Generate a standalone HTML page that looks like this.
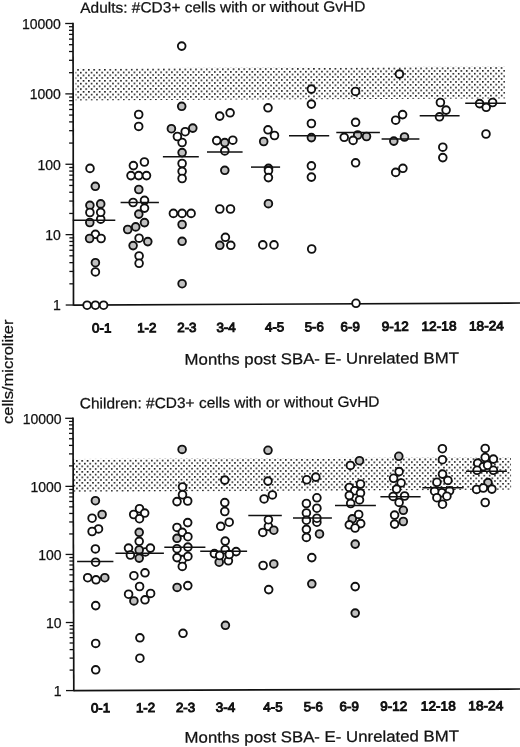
<!DOCTYPE html><html><head><meta charset="utf-8"><style>
html,body{margin:0;padding:0;background:#fff;}
body{width:520px;height:747px;overflow:hidden;}
svg{display:block;filter:grayscale(1);}
text{font-family:"Liberation Sans",sans-serif;fill:#111;stroke:#111;stroke-width:0.25px;}
.ax{stroke:#111;stroke-width:1.7;}
.tk{stroke:#111;stroke-width:1.3;}
.md{stroke:#111;stroke-width:1.5;}
.w{fill:#fff;stroke:#111;stroke-width:1.85;}
.g{fill:#c0c0c0;stroke:#111;stroke-width:1.85;}
.yl{font-size:14px;text-anchor:end;}
.xl{font-weight:normal;stroke-width:0.95px;}
.tt{font-size:14.8px;}
.xt{font-size:16px;}
</style></head><body>
<svg width="520" height="747" viewBox="0 0 520 747">
<defs>
<pattern id="p1" patternUnits="userSpaceOnUse" x="78.3" y="69.1" width="5.36" height="5.5">
<rect x="0" y="0" width="1.6" height="1.6" fill="#181818"/>
<rect x="2.68" y="2.75" width="1.6" height="1.6" fill="#181818"/>
</pattern>
<pattern id="p2" patternUnits="userSpaceOnUse" x="79.7" y="457.35" width="5.36" height="5.5">
<rect x="0" y="0" width="1.6" height="1.6" fill="#181818"/>
<rect x="2.68" y="2.75" width="1.6" height="1.6" fill="#181818"/>
</pattern>
</defs>
<text transform="translate(80.20 12.90) rotate(-0.282) scale(1.0326 1)" class="tt" style="font-size:15px">Adults: #CD3+ cells with or without GvHD</text>
<g transform="rotate(-0.25 73 305)">
<rect x="76.5" y="68.4" width="429.5" height="32" fill="url(#p1)"/>
</g>
<line x1="73" y1="22.8" x2="73.5" y2="305.72" class="ax"/>
<line x1="73.5" y1="305.1" x2="520" y2="303" class="ax"/>
<line x1="65.2" y1="23.5" x2="73" y2="23.5" class="tk"/>
<line x1="69" y1="72.69" x2="73" y2="72.69" class="tk"/>
<line x1="69" y1="60.3" x2="73" y2="60.3" class="tk"/>
<line x1="69" y1="51.51" x2="73" y2="51.51" class="tk"/>
<line x1="69" y1="44.69" x2="73" y2="44.69" class="tk"/>
<line x1="69" y1="39.11" x2="73" y2="39.11" class="tk"/>
<line x1="69" y1="34.4" x2="73" y2="34.4" class="tk"/>
<line x1="69" y1="30.32" x2="73" y2="30.32" class="tk"/>
<line x1="69" y1="26.72" x2="73" y2="26.72" class="tk"/>
<text x="60.9" y="28.75" class="yl">10000</text>
<line x1="65.33" y1="93.88" x2="73.12" y2="93.88" class="tk"/>
<line x1="69.12" y1="143.07" x2="73.12" y2="143.07" class="tk"/>
<line x1="69.12" y1="130.68" x2="73.12" y2="130.68" class="tk"/>
<line x1="69.12" y1="121.89" x2="73.12" y2="121.89" class="tk"/>
<line x1="69.12" y1="115.07" x2="73.12" y2="115.07" class="tk"/>
<line x1="69.12" y1="109.49" x2="73.12" y2="109.49" class="tk"/>
<line x1="69.12" y1="104.78" x2="73.12" y2="104.78" class="tk"/>
<line x1="69.12" y1="100.7" x2="73.12" y2="100.7" class="tk"/>
<line x1="69.12" y1="97.1" x2="73.12" y2="97.1" class="tk"/>
<text x="60.9" y="99.13" class="yl">1000</text>
<line x1="65.45" y1="164.26" x2="73.25" y2="164.26" class="tk"/>
<line x1="69.25" y1="213.45" x2="73.25" y2="213.45" class="tk"/>
<line x1="69.25" y1="201.06" x2="73.25" y2="201.06" class="tk"/>
<line x1="69.25" y1="192.27" x2="73.25" y2="192.27" class="tk"/>
<line x1="69.25" y1="185.45" x2="73.25" y2="185.45" class="tk"/>
<line x1="69.25" y1="179.87" x2="73.25" y2="179.87" class="tk"/>
<line x1="69.25" y1="175.16" x2="73.25" y2="175.16" class="tk"/>
<line x1="69.25" y1="171.08" x2="73.25" y2="171.08" class="tk"/>
<line x1="69.25" y1="167.48" x2="73.25" y2="167.48" class="tk"/>
<text x="60.9" y="169.51" class="yl">100</text>
<line x1="65.58" y1="234.64" x2="73.38" y2="234.64" class="tk"/>
<line x1="69.38" y1="283.83" x2="73.38" y2="283.83" class="tk"/>
<line x1="69.38" y1="271.44" x2="73.38" y2="271.44" class="tk"/>
<line x1="69.38" y1="262.65" x2="73.38" y2="262.65" class="tk"/>
<line x1="69.38" y1="255.83" x2="73.38" y2="255.83" class="tk"/>
<line x1="69.38" y1="250.25" x2="73.38" y2="250.25" class="tk"/>
<line x1="69.38" y1="245.54" x2="73.38" y2="245.54" class="tk"/>
<line x1="69.38" y1="241.46" x2="73.38" y2="241.46" class="tk"/>
<line x1="69.38" y1="237.86" x2="73.38" y2="237.86" class="tk"/>
<text x="60.9" y="239.89" class="yl">10</text>
<line x1="65.7" y1="305.02" x2="73.5" y2="305.02" class="tk"/>
<text x="60.9" y="310.27" class="yl">1</text>
<circle cx="90" cy="168.4" r="3.85" class="w"/>
<circle cx="95.3" cy="186.3" r="3.85" class="g"/>
<circle cx="89.9" cy="205.3" r="3.85" class="g"/>
<circle cx="100.7" cy="203.9" r="3.85" class="g"/>
<circle cx="100.7" cy="219.2" r="3.85" class="w"/>
<circle cx="89.9" cy="212.5" r="3.85" class="w"/>
<circle cx="100.7" cy="212.3" r="3.85" class="w"/>
<circle cx="89.8" cy="222.5" r="3.85" class="g"/>
<circle cx="95.4" cy="234.3" r="3.85" class="w"/>
<circle cx="89.6" cy="238.5" r="3.85" class="g"/>
<circle cx="101.1" cy="238.5" r="3.85" class="w"/>
<circle cx="95.4" cy="262.7" r="3.85" class="g"/>
<circle cx="95.4" cy="271.9" r="3.85" class="w"/>
<circle cx="87.1" cy="305.2" r="3.85" class="w"/>
<circle cx="95.4" cy="305.2" r="3.85" class="w"/>
<circle cx="103.6" cy="305.2" r="3.85" class="w"/>
<circle cx="138.7" cy="114.5" r="3.85" class="w"/>
<circle cx="138.7" cy="126.4" r="3.85" class="w"/>
<circle cx="144.4" cy="162" r="3.85" class="w"/>
<circle cx="133.4" cy="165.6" r="3.85" class="w"/>
<circle cx="131" cy="175.6" r="3.85" class="w"/>
<circle cx="138.7" cy="175.6" r="3.85" class="w"/>
<circle cx="146.5" cy="175.6" r="3.85" class="w"/>
<circle cx="138.8" cy="189.5" r="3.85" class="g"/>
<circle cx="144.5" cy="200.3" r="3.85" class="w"/>
<circle cx="133.1" cy="202.5" r="3.85" class="w"/>
<circle cx="144.5" cy="208.1" r="3.85" class="w"/>
<circle cx="138.8" cy="214.1" r="3.85" class="g"/>
<circle cx="144.5" cy="222.6" r="3.85" class="g"/>
<circle cx="135.7" cy="226.9" r="3.85" class="g"/>
<circle cx="127.7" cy="229.5" r="3.85" class="g"/>
<circle cx="139.1" cy="238.2" r="3.85" class="w"/>
<circle cx="147.8" cy="241.6" r="3.85" class="g"/>
<circle cx="133.1" cy="245.6" r="3.85" class="g"/>
<circle cx="139.1" cy="256" r="3.85" class="w"/>
<circle cx="139.1" cy="263.3" r="3.85" class="w"/>
<circle cx="181.7" cy="46.1" r="3.85" class="w"/>
<circle cx="181.7" cy="106.3" r="3.85" class="g"/>
<circle cx="171.4" cy="128.7" r="3.85" class="g"/>
<circle cx="192.8" cy="128.1" r="3.85" class="g"/>
<circle cx="182.1" cy="142.5" r="3.85" class="w"/>
<circle cx="177.4" cy="136.5" r="3.85" class="w"/>
<circle cx="185.2" cy="131.7" r="3.85" class="w"/>
<circle cx="182.1" cy="152.6" r="3.85" class="g"/>
<circle cx="182.1" cy="163.5" r="3.85" class="w"/>
<circle cx="182.1" cy="171.3" r="3.85" class="w"/>
<circle cx="182.1" cy="178.5" r="3.85" class="w"/>
<circle cx="173.4" cy="213.4" r="3.85" class="w"/>
<circle cx="182.1" cy="213.4" r="3.85" class="w"/>
<circle cx="191.1" cy="213.4" r="3.85" class="w"/>
<circle cx="182.1" cy="224.5" r="3.85" class="g"/>
<circle cx="182.1" cy="241.3" r="3.85" class="g"/>
<circle cx="182.1" cy="283.7" r="3.85" class="g"/>
<circle cx="230.1" cy="112.8" r="3.85" class="w"/>
<circle cx="219.7" cy="116.1" r="3.85" class="w"/>
<circle cx="216.7" cy="140.6" r="3.85" class="w"/>
<circle cx="232.8" cy="140.2" r="3.85" class="w"/>
<circle cx="224.8" cy="142.6" r="3.85" class="g"/>
<circle cx="224.8" cy="150.9" r="3.85" class="w"/>
<circle cx="224.8" cy="170.3" r="3.85" class="g"/>
<circle cx="219.8" cy="209" r="3.85" class="w"/>
<circle cx="230.5" cy="209" r="3.85" class="w"/>
<circle cx="225.4" cy="237.3" r="3.85" class="w"/>
<circle cx="219.8" cy="245.3" r="3.85" class="g"/>
<circle cx="230.8" cy="245.3" r="3.85" class="w"/>
<circle cx="268" cy="107.8" r="3.85" class="w"/>
<circle cx="268" cy="129.8" r="3.85" class="w"/>
<circle cx="274.5" cy="135.5" r="3.85" class="w"/>
<circle cx="263.7" cy="141.5" r="3.85" class="g"/>
<circle cx="268.5" cy="168.4" r="3.85" class="g"/>
<circle cx="268.5" cy="170.6" r="3.85" class="w"/>
<circle cx="268.4" cy="177.6" r="3.85" class="w"/>
<circle cx="268.4" cy="203.7" r="3.85" class="g"/>
<circle cx="262.8" cy="244.9" r="3.85" class="w"/>
<circle cx="274" cy="244.9" r="3.85" class="w"/>
<circle cx="311.4" cy="89.1" r="3.85" class="w"/>
<circle cx="311.4" cy="104.1" r="3.85" class="w"/>
<circle cx="311.4" cy="123.5" r="3.85" class="w"/>
<circle cx="311.4" cy="137.6" r="3.85" class="g"/>
<circle cx="311.4" cy="165.8" r="3.85" class="w"/>
<circle cx="311.4" cy="177.1" r="3.85" class="w"/>
<circle cx="311.7" cy="249" r="3.85" class="w"/>
<circle cx="355.5" cy="91.4" r="3.85" class="w"/>
<circle cx="355.6" cy="122.3" r="3.85" class="w"/>
<circle cx="357.7" cy="135" r="3.85" class="g"/>
<circle cx="366.5" cy="136.5" r="3.85" class="g"/>
<circle cx="344.2" cy="137.3" r="3.85" class="w"/>
<circle cx="353.1" cy="140.4" r="3.85" class="w"/>
<circle cx="355.6" cy="162.8" r="3.85" class="w"/>
<circle cx="356" cy="303.3" r="3.85" class="w"/>
<circle cx="399.4" cy="74.1" r="3.85" class="w"/>
<circle cx="402.6" cy="114.6" r="3.85" class="w"/>
<circle cx="395.7" cy="120.2" r="3.85" class="w"/>
<circle cx="404.5" cy="137" r="3.85" class="g"/>
<circle cx="393.8" cy="141.1" r="3.85" class="g"/>
<circle cx="402.9" cy="168.3" r="3.85" class="w"/>
<circle cx="395.7" cy="172.4" r="3.85" class="w"/>
<circle cx="440.4" cy="102.5" r="3.85" class="w"/>
<circle cx="446.1" cy="110.1" r="3.85" class="w"/>
<circle cx="439.5" cy="116.8" r="3.85" class="w"/>
<circle cx="442.8" cy="147.2" r="3.85" class="w"/>
<circle cx="442.8" cy="157.6" r="3.85" class="w"/>
<circle cx="479.6" cy="103.6" r="3.85" class="w"/>
<circle cx="486.2" cy="107.3" r="3.85" class="w"/>
<circle cx="492.6" cy="102.5" r="3.85" class="w"/>
<circle cx="486" cy="134" r="3.85" class="w"/>
<line x1="72.8" y1="220.3" x2="115.3" y2="220.3" class="md"/>
<line x1="120.6" y1="202.4" x2="158.9" y2="202.4" class="md"/>
<line x1="162.9" y1="156.7" x2="198.8" y2="156.7" class="md"/>
<line x1="207" y1="151.9" x2="242.6" y2="151.9" class="md"/>
<line x1="251" y1="167.1" x2="280.1" y2="167.1" class="md"/>
<line x1="289" y1="135.7" x2="329.2" y2="135.7" class="md"/>
<line x1="336.3" y1="132.4" x2="379.9" y2="132.4" class="md"/>
<line x1="381.6" y1="139" x2="419.4" y2="139" class="md"/>
<line x1="419.7" y1="115.8" x2="459.6" y2="115.8" class="md"/>
<line x1="465.2" y1="103.3" x2="505.9" y2="103.3" class="md"/>
<text transform="translate(92.08 332.57) rotate(-0.315) scale(1.0130 1)" class="xl" style="font-size:13.2px">0-1</text>
<text transform="translate(137.13 332.32) rotate(-0.315) scale(1.0125 1)" class="xl" style="font-size:13.2px">1-2</text>
<text transform="translate(177.21 332.10) rotate(-0.315) scale(1.0129 1)" class="xl" style="font-size:13.2px">2-3</text>
<text transform="translate(216.38 331.88) rotate(-0.315) scale(1.0203 1)" class="xl" style="font-size:13.2px">3-4</text>
<text transform="translate(265.00 331.62) rotate(-0.315) scale(1.0132 1)" class="xl" style="font-size:13.2px">4-5</text>
<text transform="translate(304.74 331.40) rotate(-0.315) scale(1.0058 1)" class="xl" style="font-size:13.2px">5-6</text>
<text transform="translate(340.61 331.20) rotate(-0.315) scale(1.0129 1)" class="xl" style="font-size:13.2px">6-9</text>
<text transform="translate(381.65 330.95) rotate(-0.315) scale(1.0230 1)" class="xl" style="font-size:13.2px">9-12</text>
<text transform="translate(421.51 330.71) rotate(-0.315) scale(1.0365 1)" class="xl" style="font-size:13.2px">12-18</text>
<text transform="translate(468.99 330.45) rotate(-0.315) scale(1.0364 1)" class="xl" style="font-size:13.2px">18-24</text>
<text transform="translate(184.55 364.80) rotate(-0.336) scale(1.0780 1)" class="xt" style="font-size:15.6px">Months post SBA- E- Unrelated BMT</text>
<text transform="translate(12.6 423.99) rotate(-90) scale(1.0996 1)" class="xt" style="font-size:15px">cells/microliter</text>
<text transform="translate(79.83 408.60) rotate(-0.346) scale(1.0322 1)" class="tt" style="font-size:15px">Children: #CD3+ cells with or without GvHD</text>
<g transform="rotate(-0.25 73 690)">
<rect x="74.4" y="459.1" width="437.6" height="32.6" fill="url(#p2)"/>
</g>
<line x1="73" y1="417.6" x2="73.8" y2="691.28" class="ax"/>
<line x1="73.8" y1="690.6" x2="520" y2="689" class="ax"/>
<line x1="65.2" y1="418.3" x2="73" y2="418.3" class="tk"/>
<line x1="69" y1="465.88" x2="73" y2="465.88" class="tk"/>
<line x1="69" y1="453.89" x2="73" y2="453.89" class="tk"/>
<line x1="69" y1="445.39" x2="73" y2="445.39" class="tk"/>
<line x1="69" y1="438.79" x2="73" y2="438.79" class="tk"/>
<line x1="69" y1="433.4" x2="73" y2="433.4" class="tk"/>
<line x1="69" y1="428.84" x2="73" y2="428.84" class="tk"/>
<line x1="69" y1="424.9" x2="73" y2="424.9" class="tk"/>
<line x1="69" y1="421.41" x2="73" y2="421.41" class="tk"/>
<text x="61.6" y="423.55" class="yl">10000</text>
<line x1="65.4" y1="486.37" x2="73.2" y2="486.37" class="tk"/>
<line x1="69.2" y1="533.95" x2="73.2" y2="533.95" class="tk"/>
<line x1="69.2" y1="521.96" x2="73.2" y2="521.96" class="tk"/>
<line x1="69.2" y1="513.46" x2="73.2" y2="513.46" class="tk"/>
<line x1="69.2" y1="506.86" x2="73.2" y2="506.86" class="tk"/>
<line x1="69.2" y1="501.47" x2="73.2" y2="501.47" class="tk"/>
<line x1="69.2" y1="496.91" x2="73.2" y2="496.91" class="tk"/>
<line x1="69.2" y1="492.97" x2="73.2" y2="492.97" class="tk"/>
<line x1="69.2" y1="489.48" x2="73.2" y2="489.48" class="tk"/>
<text x="61.6" y="491.62" class="yl">1000</text>
<line x1="65.6" y1="554.44" x2="73.4" y2="554.44" class="tk"/>
<line x1="69.4" y1="602.02" x2="73.4" y2="602.02" class="tk"/>
<line x1="69.4" y1="590.03" x2="73.4" y2="590.03" class="tk"/>
<line x1="69.4" y1="581.53" x2="73.4" y2="581.53" class="tk"/>
<line x1="69.4" y1="574.93" x2="73.4" y2="574.93" class="tk"/>
<line x1="69.4" y1="569.54" x2="73.4" y2="569.54" class="tk"/>
<line x1="69.4" y1="564.98" x2="73.4" y2="564.98" class="tk"/>
<line x1="69.4" y1="561.04" x2="73.4" y2="561.04" class="tk"/>
<line x1="69.4" y1="557.55" x2="73.4" y2="557.55" class="tk"/>
<text x="61.6" y="559.69" class="yl">100</text>
<line x1="65.8" y1="622.51" x2="73.6" y2="622.51" class="tk"/>
<line x1="69.6" y1="670.09" x2="73.6" y2="670.09" class="tk"/>
<line x1="69.6" y1="658.1" x2="73.6" y2="658.1" class="tk"/>
<line x1="69.6" y1="649.6" x2="73.6" y2="649.6" class="tk"/>
<line x1="69.6" y1="643" x2="73.6" y2="643" class="tk"/>
<line x1="69.6" y1="637.61" x2="73.6" y2="637.61" class="tk"/>
<line x1="69.6" y1="633.05" x2="73.6" y2="633.05" class="tk"/>
<line x1="69.6" y1="629.11" x2="73.6" y2="629.11" class="tk"/>
<line x1="69.6" y1="625.62" x2="73.6" y2="625.62" class="tk"/>
<text x="61.6" y="627.76" class="yl">10</text>
<line x1="66" y1="690.58" x2="73.8" y2="690.58" class="tk"/>
<text x="61.6" y="695.83" class="yl">1</text>
<circle cx="95.4" cy="500.7" r="3.85" class="g"/>
<circle cx="102.1" cy="514.5" r="3.85" class="g"/>
<circle cx="92.1" cy="518.2" r="3.85" class="w"/>
<circle cx="98.5" cy="528.9" r="3.85" class="w"/>
<circle cx="92.1" cy="531.5" r="3.85" class="w"/>
<circle cx="95.4" cy="548.9" r="3.85" class="w"/>
<circle cx="95.6" cy="562.2" r="3.85" class="w"/>
<circle cx="87.7" cy="577.7" r="3.85" class="w"/>
<circle cx="104.8" cy="577.7" r="3.85" class="g"/>
<circle cx="96" cy="579.8" r="3.85" class="w"/>
<circle cx="95.7" cy="605.6" r="3.85" class="w"/>
<circle cx="95.7" cy="643.4" r="3.85" class="w"/>
<circle cx="95.7" cy="669.8" r="3.85" class="w"/>
<circle cx="139.5" cy="508.7" r="3.85" class="w"/>
<circle cx="133.7" cy="514.5" r="3.85" class="w"/>
<circle cx="144.7" cy="513.1" r="3.85" class="w"/>
<circle cx="139.5" cy="518.7" r="3.85" class="w"/>
<circle cx="139.2" cy="532.3" r="3.85" class="g"/>
<circle cx="139.2" cy="541.3" r="3.85" class="w"/>
<circle cx="145.4" cy="551.9" r="3.85" class="w"/>
<circle cx="128.5" cy="548.1" r="3.85" class="w"/>
<circle cx="150.4" cy="548.1" r="3.85" class="w"/>
<circle cx="139.2" cy="550" r="3.85" class="g"/>
<circle cx="130.4" cy="555" r="3.85" class="w"/>
<circle cx="139.2" cy="558.1" r="3.85" class="g"/>
<circle cx="145" cy="572.8" r="3.85" class="w"/>
<circle cx="133.9" cy="575.7" r="3.85" class="w"/>
<circle cx="139.6" cy="586.5" r="3.85" class="w"/>
<circle cx="128.6" cy="594.2" r="3.85" class="w"/>
<circle cx="150.6" cy="593.4" r="3.85" class="w"/>
<circle cx="133.9" cy="600.9" r="3.85" class="g"/>
<circle cx="145" cy="599.8" r="3.85" class="w"/>
<circle cx="139.9" cy="637.8" r="3.85" class="w"/>
<circle cx="139.9" cy="658.2" r="3.85" class="w"/>
<circle cx="182.1" cy="449.4" r="3.85" class="g"/>
<circle cx="182.5" cy="486.9" r="3.85" class="w"/>
<circle cx="182.5" cy="494.7" r="3.85" class="w"/>
<circle cx="177" cy="501.6" r="3.85" class="w"/>
<circle cx="187.7" cy="501" r="3.85" class="w"/>
<circle cx="187.7" cy="522.6" r="3.85" class="w"/>
<circle cx="177" cy="527.4" r="3.85" class="w"/>
<circle cx="182.3" cy="532.3" r="3.85" class="w"/>
<circle cx="177" cy="538.3" r="3.85" class="g"/>
<circle cx="187.9" cy="536.7" r="3.85" class="w"/>
<circle cx="182.3" cy="559.6" r="3.85" class="w"/>
<circle cx="182.3" cy="566.4" r="3.85" class="w"/>
<circle cx="177" cy="548.7" r="3.85" class="w"/>
<circle cx="187.9" cy="547.1" r="3.85" class="w"/>
<circle cx="177" cy="557.6" r="3.85" class="w"/>
<circle cx="187.9" cy="556.4" r="3.85" class="w"/>
<circle cx="177.1" cy="587.4" r="3.85" class="g"/>
<circle cx="187.8" cy="585.6" r="3.85" class="w"/>
<circle cx="183" cy="633.3" r="3.85" class="w"/>
<circle cx="224.8" cy="480.1" r="3.85" class="w"/>
<circle cx="224.8" cy="502.6" r="3.85" class="w"/>
<circle cx="224.8" cy="511.5" r="3.85" class="w"/>
<circle cx="229.2" cy="522.2" r="3.85" class="w"/>
<circle cx="220.7" cy="526.3" r="3.85" class="w"/>
<circle cx="225.2" cy="541.1" r="3.85" class="w"/>
<circle cx="225.2" cy="549.7" r="3.85" class="w"/>
<circle cx="214.4" cy="553.6" r="3.85" class="w"/>
<circle cx="236.1" cy="551.6" r="3.85" class="w"/>
<circle cx="219.2" cy="562.2" r="3.85" class="g"/>
<circle cx="228.4" cy="560.8" r="3.85" class="w"/>
<circle cx="219.7" cy="555.5" r="3.85" class="w"/>
<circle cx="229.3" cy="554.5" r="3.85" class="w"/>
<circle cx="225.4" cy="625.3" r="3.85" class="g"/>
<circle cx="268" cy="450.3" r="3.85" class="g"/>
<circle cx="268" cy="481.1" r="3.85" class="w"/>
<circle cx="272.4" cy="494.9" r="3.85" class="w"/>
<circle cx="264.1" cy="498.9" r="3.85" class="w"/>
<circle cx="268.4" cy="526.4" r="3.85" class="w"/>
<circle cx="268.4" cy="519.7" r="3.85" class="w"/>
<circle cx="262.8" cy="532.4" r="3.85" class="w"/>
<circle cx="273.8" cy="530.2" r="3.85" class="g"/>
<circle cx="263.1" cy="565.5" r="3.85" class="w"/>
<circle cx="273.8" cy="563.9" r="3.85" class="g"/>
<circle cx="268.7" cy="589.6" r="3.85" class="w"/>
<circle cx="306.7" cy="479.8" r="3.85" class="w"/>
<circle cx="315.8" cy="477.1" r="3.85" class="w"/>
<circle cx="316.9" cy="497.8" r="3.85" class="w"/>
<circle cx="306.4" cy="503.5" r="3.85" class="w"/>
<circle cx="316.9" cy="508.2" r="3.85" class="w"/>
<circle cx="306.4" cy="512.9" r="3.85" class="w"/>
<circle cx="316.9" cy="522.2" r="3.85" class="w"/>
<circle cx="316.9" cy="518.2" r="3.85" class="w"/>
<circle cx="306.4" cy="520.2" r="3.85" class="w"/>
<circle cx="306.4" cy="529.3" r="3.85" class="w"/>
<circle cx="319.5" cy="533.9" r="3.85" class="g"/>
<circle cx="306.4" cy="537.4" r="3.85" class="w"/>
<circle cx="311.8" cy="557.6" r="3.85" class="w"/>
<circle cx="311.8" cy="583.8" r="3.85" class="g"/>
<circle cx="359.5" cy="460.7" r="3.85" class="g"/>
<circle cx="350.4" cy="465.4" r="3.85" class="w"/>
<circle cx="360.5" cy="484" r="3.85" class="w"/>
<circle cx="349.3" cy="487.4" r="3.85" class="w"/>
<circle cx="354.7" cy="490.7" r="3.85" class="w"/>
<circle cx="360.5" cy="493.1" r="3.85" class="w"/>
<circle cx="349.3" cy="495.5" r="3.85" class="w"/>
<circle cx="359.5" cy="499.9" r="3.85" class="w"/>
<circle cx="350.7" cy="503.5" r="3.85" class="w"/>
<circle cx="352.3" cy="518.8" r="3.85" class="g"/>
<circle cx="358.7" cy="514.4" r="3.85" class="w"/>
<circle cx="360.7" cy="523.6" r="3.85" class="w"/>
<circle cx="349.3" cy="524.8" r="3.85" class="w"/>
<circle cx="355.1" cy="528" r="3.85" class="w"/>
<circle cx="355.2" cy="544.1" r="3.85" class="g"/>
<circle cx="355.2" cy="586.6" r="3.85" class="w"/>
<circle cx="355.2" cy="613.1" r="3.85" class="g"/>
<circle cx="398.8" cy="456.3" r="3.85" class="g"/>
<circle cx="399.1" cy="471.6" r="3.85" class="w"/>
<circle cx="393.6" cy="478.3" r="3.85" class="w"/>
<circle cx="401.1" cy="482.9" r="3.85" class="w"/>
<circle cx="396.6" cy="489.1" r="3.85" class="w"/>
<circle cx="393.1" cy="496.4" r="3.85" class="w"/>
<circle cx="404.6" cy="496" r="3.85" class="w"/>
<circle cx="399.1" cy="502.4" r="3.85" class="w"/>
<circle cx="403.3" cy="510.3" r="3.85" class="g"/>
<circle cx="394.6" cy="515.1" r="3.85" class="w"/>
<circle cx="403.3" cy="521.5" r="3.85" class="g"/>
<circle cx="394.6" cy="524.1" r="3.85" class="w"/>
<circle cx="442.4" cy="448.7" r="3.85" class="w"/>
<circle cx="442.4" cy="459.7" r="3.85" class="w"/>
<circle cx="442.5" cy="474.1" r="3.85" class="w"/>
<circle cx="436.9" cy="482.3" r="3.85" class="w"/>
<circle cx="447.9" cy="480.4" r="3.85" class="w"/>
<circle cx="441.8" cy="492.7" r="3.85" class="w"/>
<circle cx="434.6" cy="491.2" r="3.85" class="w"/>
<circle cx="449.6" cy="490.8" r="3.85" class="w"/>
<circle cx="436.9" cy="497.7" r="3.85" class="w"/>
<circle cx="446.9" cy="496.2" r="3.85" class="w"/>
<circle cx="442.5" cy="504.2" r="3.85" class="w"/>
<circle cx="485.2" cy="448.4" r="3.85" class="w"/>
<circle cx="485.2" cy="457.5" r="3.85" class="w"/>
<circle cx="493.4" cy="459.1" r="3.85" class="w"/>
<circle cx="477.7" cy="463.1" r="3.85" class="w"/>
<circle cx="483.3" cy="466.6" r="3.85" class="w"/>
<circle cx="487.6" cy="465.2" r="3.85" class="w"/>
<circle cx="477.1" cy="470.3" r="3.85" class="w"/>
<circle cx="493.4" cy="470.3" r="3.85" class="w"/>
<circle cx="488" cy="482.6" r="3.85" class="g"/>
<circle cx="476.6" cy="489.4" r="3.85" class="w"/>
<circle cx="483.3" cy="488" r="3.85" class="w"/>
<circle cx="491.9" cy="489.1" r="3.85" class="w"/>
<circle cx="485.2" cy="502.5" r="3.85" class="w"/>
<line x1="77.1" y1="561.5" x2="113.4" y2="561.5" class="md"/>
<line x1="115.4" y1="553.2" x2="163.9" y2="553.2" class="md"/>
<line x1="164.3" y1="547.3" x2="205.4" y2="547.3" class="md"/>
<line x1="200.2" y1="551.2" x2="247.1" y2="551.2" class="md"/>
<line x1="248.3" y1="515.4" x2="281.8" y2="515.4" class="md"/>
<line x1="293" y1="518" x2="331.9" y2="518" class="md"/>
<line x1="335" y1="505.4" x2="375.9" y2="505.4" class="md"/>
<line x1="380.4" y1="496.8" x2="420.6" y2="496.8" class="md"/>
<line x1="422.4" y1="487.7" x2="463.5" y2="487.7" class="md"/>
<line x1="465.9" y1="471.2" x2="506.9" y2="471.2" class="md"/>
<text transform="translate(90.88 712.42) rotate(-0.315) scale(1.0130 1)" class="xl" style="font-size:13.2px">0-1</text>
<text transform="translate(135.93 712.17) rotate(-0.315) scale(1.0125 1)" class="xl" style="font-size:13.2px">1-2</text>
<text transform="translate(175.91 711.95) rotate(-0.315) scale(1.0129 1)" class="xl" style="font-size:13.2px">2-3</text>
<text transform="translate(215.68 711.73) rotate(-0.315) scale(1.0203 1)" class="xl" style="font-size:13.2px">3-4</text>
<text transform="translate(263.30 711.47) rotate(-0.315) scale(1.0132 1)" class="xl" style="font-size:13.2px">4-5</text>
<text transform="translate(303.74 711.25) rotate(-0.315) scale(1.0058 1)" class="xl" style="font-size:13.2px">5-6</text>
<text transform="translate(339.51 711.05) rotate(-0.315) scale(1.0129 1)" class="xl" style="font-size:13.2px">6-9</text>
<text transform="translate(380.25 710.81) rotate(-0.315) scale(1.0230 1)" class="xl" style="font-size:13.2px">9-12</text>
<text transform="translate(420.81 710.56) rotate(-0.315) scale(1.0365 1)" class="xl" style="font-size:13.2px">12-18</text>
<text transform="translate(468.29 710.30) rotate(-0.315) scale(1.0364 1)" class="xl" style="font-size:13.2px">18-24</text>
<text transform="translate(184.55 742.80) rotate(-0.315) scale(1.0780 1)" class="xt" style="font-size:15.6px">Months post SBA- E- Unrelated BMT</text>
</svg></body></html>
